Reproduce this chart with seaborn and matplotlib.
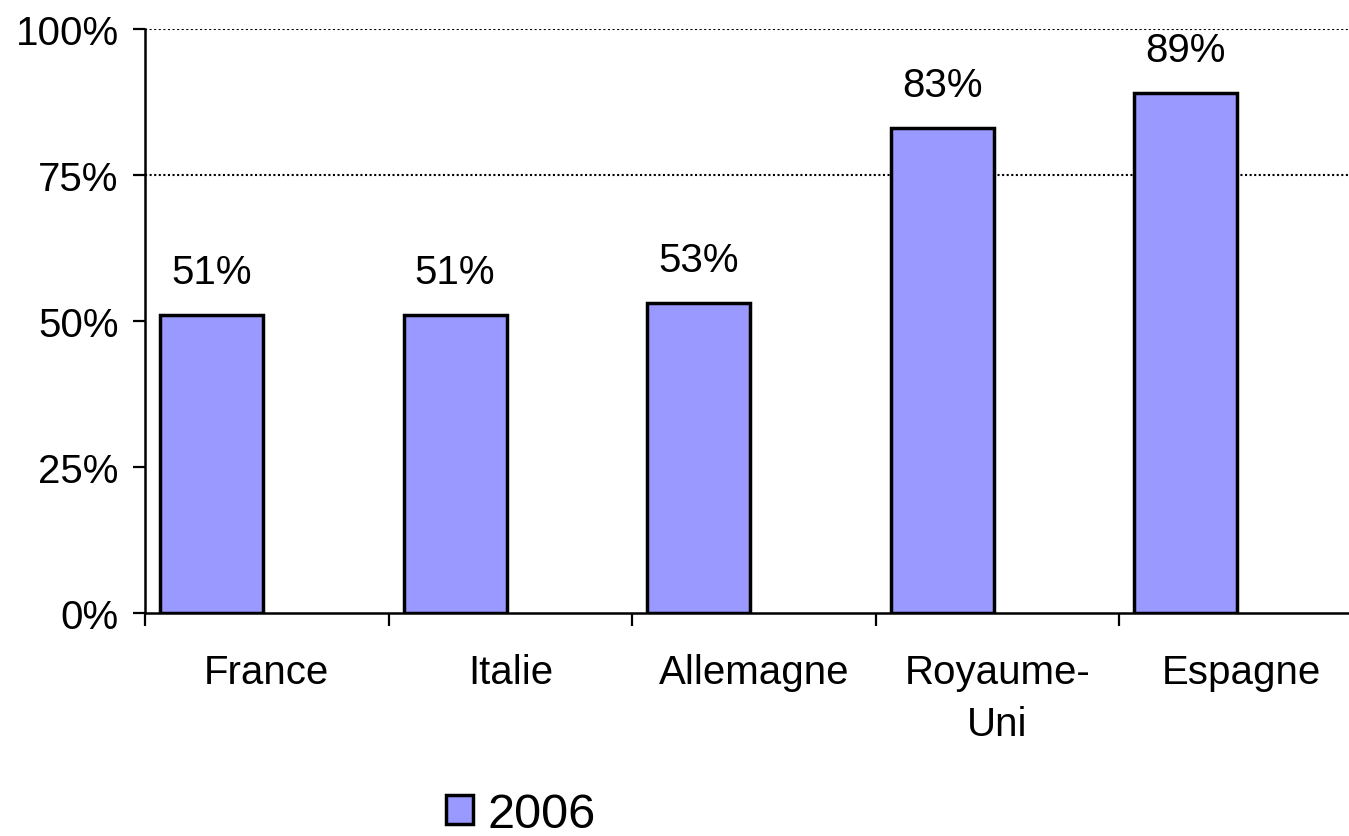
import numpy as np
import pandas as pd
import matplotlib
matplotlib.use('Agg')
import matplotlib.pyplot as plt
import seaborn as sns
from matplotlib.patches import Patch

# données
pays = ['France', 'Italie', 'Allemagne', 'Royaume-\nUni', 'Espagne']
valeurs = [51, 51, 53, 83, 89]
serie = '2006'

df = pd.DataFrame({'pays': pays, 'valeur': valeurs})

sns.set_style('white')
plt.rcParams['font.family'] = ['Liberation Sans', 'DejaVu Sans']
plt.rcParams['text.color'] = 'black'
plt.rcParams['xtick.color'] = 'black'
plt.rcParams['ytick.color'] = 'black'

fig = plt.figure(figsize=(13.49, 8.37), dpi=100)
ax = fig.add_axes([145 / 1349, (837 - 614) / 837, 1 - 145 / 1349, (614 - 30) / 837])

couleur = '#9999FF'
largeur = 0.423
decalage = -0.227  # barres décalées à gauche dans chaque catégorie

sns.barplot(data=df, x='pays', y='valeur', color=couleur, width=largeur,
            edgecolor='black', linewidth=2.5, saturation=1, ax=ax, zorder=3)

for p in ax.patches:
    p.set_x(p.get_x() + decalage)

# étiquettes de valeur
for i, v in enumerate(valeurs):
    ax.annotate('{}%'.format(v), (i + decalage, v), xytext=(0, 23.5),
                textcoords='offset points', ha='center', va='baseline',
                fontsize=29, color='black')

# grille pointillée seulement à 75% et 100%
for g in [75, 100]:
    ax.axhline(g, color='black', linestyle=(0, (1, 1.2)), linewidth=1.5, zorder=1)

ax.set_yticks([0, 25, 50, 75, 100])
ax.set_yticklabels(['{}%'.format(t) for t in [0, 25, 50, 75, 100]], fontsize=29)
ax.tick_params(axis='y', left=True, direction='out', length=9, width=1.6, pad=10)

ax.set_xticks(range(len(pays)))
ax.set_xticklabels(pays, fontsize=29, linespacing=1.45)
ax.set_xticks(np.arange(-0.5, len(pays), 1), minor=True)
ax.tick_params(axis='x', which='major', bottom=False, length=0, pad=29)
ax.tick_params(axis='x', which='minor', bottom=True, direction='out', length=9, width=1.6)

# limites après les ticks (set_xticks élargit la vue)
ax.set_xlim(-0.5, -0.5 + (1349 - 145) / 243.6)
ax.set_ylim(0, 100)

ax.set_xlabel('')
ax.set_ylabel('')

for s in ['top', 'right']:
    ax.spines[s].set_visible(False)
for s in ['left', 'bottom']:
    ax.spines[s].set_color('black')
    ax.spines[s].set_linewidth(1.8)
    ax.spines[s].set_zorder(4)

handle = Patch(facecolor=couleur, edgecolor='black', linewidth=2.5)
fig.legend([handle], [serie], loc='center', bbox_to_anchor=(0.386, 0.026),
           frameon=False, fontsize=35, handlelength=0.55, handleheight=0.55,
           handletextpad=0.3, borderpad=0)

fig.savefig('out.png', dpi=100)
plt.close()
